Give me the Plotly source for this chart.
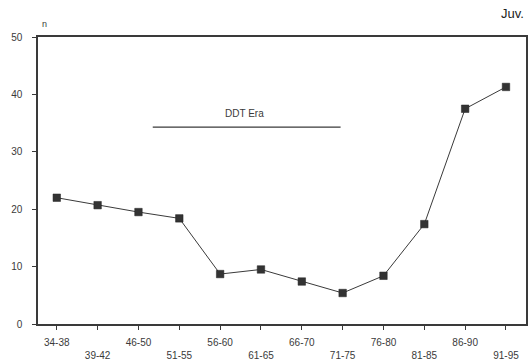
import plotly.graph_objects as go

# Five-year periods (juvenile counts)
periods = ["34-38", "39-42", "46-50", "51-55", "56-60", "61-65",
           "66-70", "71-75", "76-80", "81-85", "86-90", "91-95"]
counts = [22, 20.7, 19.5, 18.4, 8.7, 9.5, 7.4, 5.4, 8.4, 17.4, 37.5, 41.3]

# DDT era span (in period index units) and its level on the n axis
ddt_span = [2.35, 6.95]
ddt_level = 34.3

y_ticks = [0, 10, 20, 30, 40, 50]

idx = list(range(len(periods)))
# staggered labels: every second label drops to a second row
tick_text = [p if i % 2 == 0 else "<br>" + p for i, p in enumerate(periods)]

ink = "#3a3a3a"
font = dict(family="Liberation Sans, Arial, sans-serif", size=10, color=ink)

fig = go.Figure()
fig.add_trace(go.Scatter(
    x=idx, y=counts, mode="lines+markers",
    line=dict(color=ink, width=1),
    marker=dict(symbol="square", size=7.5, color="#333333",
                line=dict(color="#222222", width=0.5)),
    showlegend=False, hoverinfo="skip",
))

fig.add_shape(type="line", xref="x", yref="y",
              x0=ddt_span[0], x1=ddt_span[1], y0=ddt_level, y1=ddt_level,
              line=dict(color=ink, width=1.2))
fig.add_annotation(x=sum(ddt_span) / 2 - 0.05, y=ddt_level + 2.4, xref="x", yref="y",
                   text="DDT Era", showarrow=False, font=dict(font, size=10))
fig.add_annotation(x=0.005, y=1.02, xref="paper", yref="paper",
                   text="n", showarrow=False, xanchor="left", yanchor="bottom",
                   font=dict(font, size=9))
fig.add_annotation(x=1.0, y=1.05, xref="paper", yref="paper",
                   text="Juv.", showarrow=False, xanchor="right", yanchor="bottom",
                   font=dict(font, size=13, color="#222222"))

fig.update_layout(
    width=529, height=363,
    margin=dict(l=38, r=1, t=37, b=39),
    paper_bgcolor="white", plot_bgcolor="white",
    font=font,
    xaxis=dict(
        range=[-0.46, 11.49], tickmode="array", tickvals=idx, ticktext=tick_text,
        showgrid=False, zeroline=False, showline=True, mirror=True,
        linecolor=ink, linewidth=1.5, ticks="outside", ticklen=4,
        tickcolor=ink, tickangle=0, ticklabelstandoff=4,
    ),
    yaxis=dict(
        range=[0, 50], tickmode="array", tickvals=y_ticks,
        showgrid=False, zeroline=False, showline=True, mirror=True,
        linecolor=ink, linewidth=1.5, ticks="outside", ticklen=4,
        tickcolor=ink, ticklabelstandoff=8,
    ),
)

fig.write_html("out.html")
